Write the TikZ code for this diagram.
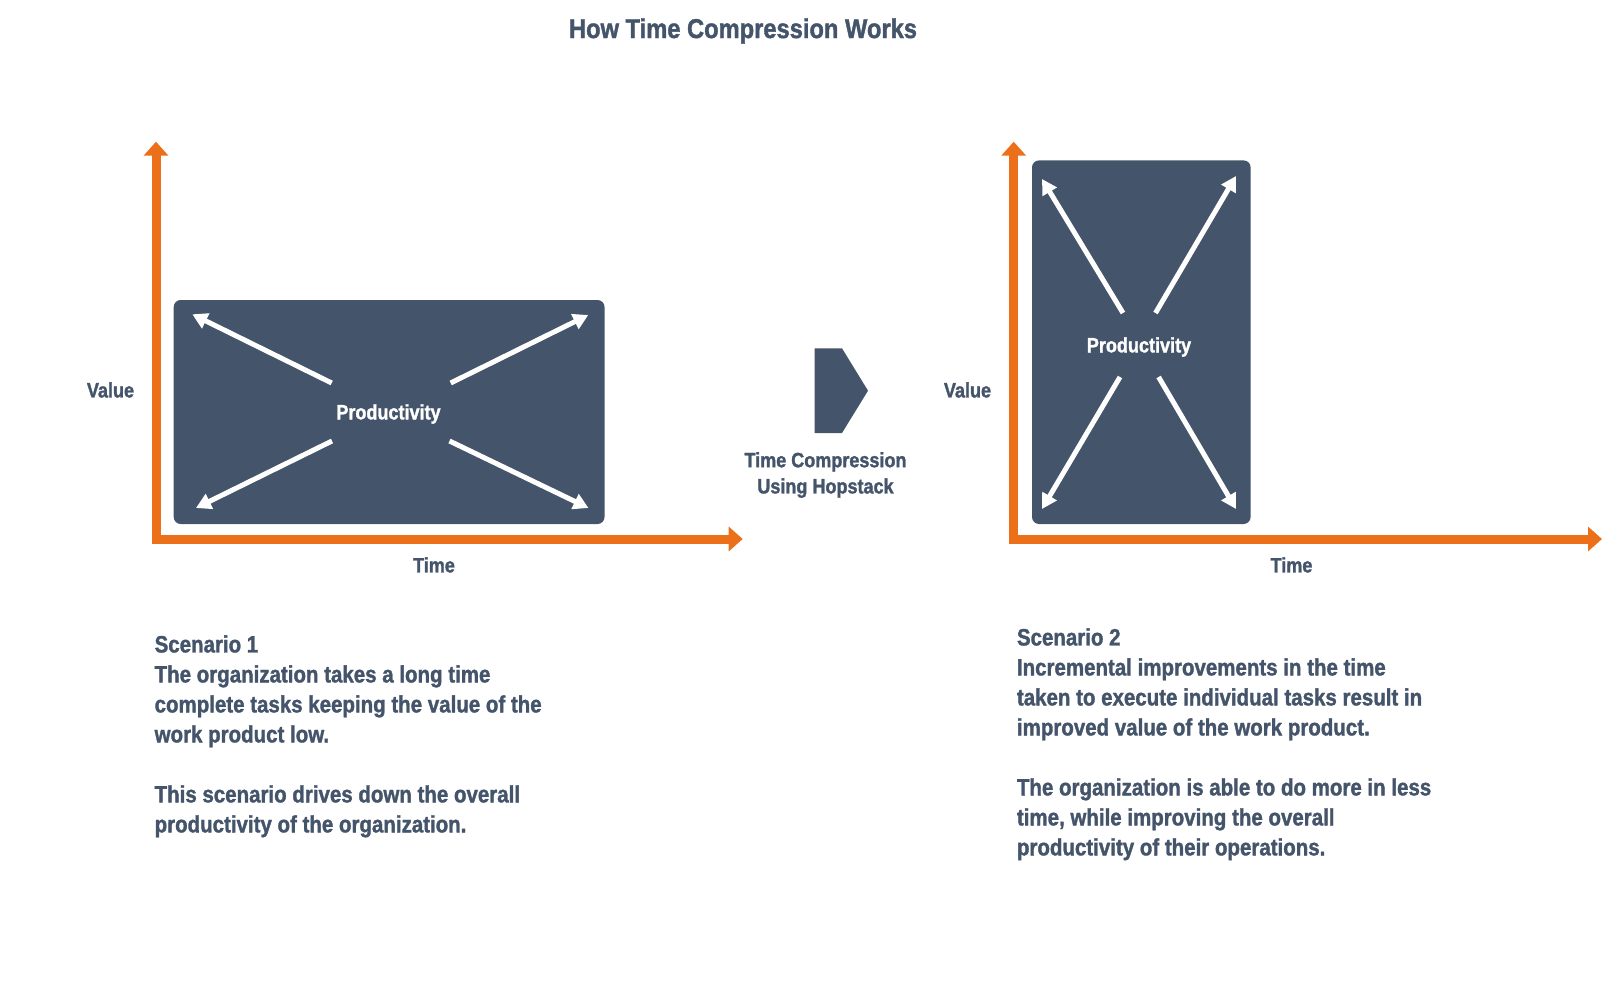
\documentclass[tikz,border=0pt]{standalone}
\usepackage{fontspec}
\setmainfont[FakeStretch=0.87,BoldFeatures={FakeBold=1.4}]{Liberation Sans}
\usepackage{xcolor}
\usetikzlibrary{arrows.meta}
\definecolor{slate}{HTML}{44546A}
\definecolor{tangerine}{HTML}{EC6F1A}
\tikzset{
	axisline/.style={draw=tangerine,line width=0.18cm,miter limit=10,{Triangle[length=0.28cm,width=0.48cm]}-{Triangle[length=0.28cm,width=0.48cm]}},
	growline/.style={draw=white,line width=0.1cm,-{Triangle[length=0.3cm,width=0.32cm]}},
	plate/.style={fill=slate,rounded corners=0.14cm},
	label/.style={text=slate,inner sep=0pt,font=\bfseries\fontsize{11.8}{14}\selectfont},
	story/.style={text=slate,inner sep=0pt,align=left,anchor=north west,font=\bfseries\fontsize{13.4}{17.07}\selectfont}
}
\begin{document}
\begin{tikzpicture}[x=0.02cm,y=-0.02cm]
\useasboundingbox (0,0) rectangle (1602,993);
\node[label,font=\bfseries\fontsize{15.5}{18}\selectfont] (title) at (743,31) {How Time Compression Works};
% scenario de gauche
\fill[plate] (173.7,300) rectangle (604.5,524);
\coordinate (O1) at (156,539);
\coordinate (V1) at (156,141.7);
\coordinate (T1) at (742.7,539);
\draw[axisline] (V1)--(O1)--(T1);
\node[label] (value1) at (110.5,390) {Value};
\node[label] (time1) at (434,565) {Time};
\node[label,text=white] (prod1) at (388.5,414) {Productivity};
\coordinate (A1) at (331.7,383);
\coordinate (B1) at (450.7,383);
\coordinate (C1) at (332,441);
\coordinate (D1) at (449.5,441);
\coordinate (AA1) at (192.3,314.3);
\coordinate (BB1) at (588.3,315);
\coordinate (CC1) at (196,508);
\coordinate (DD1) at (588.5,508);
\draw[growline] (A1)--(AA1);
\draw[growline] (B1)--(BB1);
\draw[growline] (C1)--(CC1);
\draw[growline] (D1)--(DD1);
% fleche du milieu
\fill[slate] (814.7,348.3)--(842,348.3)--(868,390.7)--(842,433)--(814.7,433)--cycle;
\node[label,align=center] (middle) at (825.5,475) {Time Compression\\[0.9pt]Using Hopstack};
% scenario de droite
\fill[plate] (1032,160.4) rectangle (1250.6,524);
\coordinate (O2) at (1013.7,539);
\coordinate (V2) at (1013.7,141.7);
\coordinate (T2) at (1602,539);
\draw[axisline] (V2)--(O2)--(T2);
\node[label] (value2) at (967.5,390) {Value};
\node[label] (time2) at (1291.5,565) {Time};
\node[label,text=white] (prod2) at (1139,347) {Productivity};
\coordinate (A2) at (1123,313);
\coordinate (B2) at (1155.5,313);
\coordinate (C2) at (1120,377);
\coordinate (D2) at (1158.6,377);
\coordinate (AA2) at (1042,179);
\coordinate (BB2) at (1236,176);
\coordinate (CC2) at (1042,509);
\coordinate (DD2) at (1236,509);
\draw[growline] (A2)--(AA2);
\draw[growline] (B2)--(BB2);
\draw[growline] (C2)--(CC2);
\draw[growline] (D2)--(DD2);
% textes
\node[story] (story1) at (154.3,635) {Scenario 1\\The organization takes a long time\\complete tasks keeping the value of the\\work product low.\\[17.07pt]This scenario drives down the overall\\productivity of the organization.};
\node[story] (story2) at (1016.6,628) {Scenario 2\\Incremental improvements in the time\\taken to execute individual tasks result in\\improved value of the work product.\\[17.07pt]The organization is able to do more in less\\time, while improving the overall\\productivity of their operations.};
\end{tikzpicture}
\end{document}
